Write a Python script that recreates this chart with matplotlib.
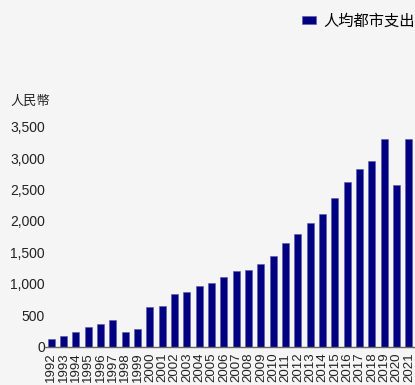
import matplotlib.pyplot as plt

plt.rcParams['font.family'] = ['Liberation Sans', 'Noto Sans CJK TC', 'DejaVu Sans']

years = [str(y) for y in range(1992, 2022)]
spending = [123, 165, 224, 304, 351, 426, 235, 283, 623, 644,
            842, 863, 958, 1006, 1102, 1203, 1214, 1310, 1443, 1641,
            1784, 1960, 2114, 2359, 2615, 2822, 2950, 3302, 2567, 3302]
yticks = [0, 500, 1000, 1500, 2000, 2500, 3000, 3500]
series_name = '人均都市支出'
y_label = '人民幣'

bg = '#f5f5f5'
fig = plt.figure(figsize=(4.15, 3.85), dpi=100, facecolor=bg)
ax = fig.add_axes([45 / 415, 38.5 / 385, 370 / 415, 219.8 / 385], facecolor=bg)

ax.bar(range(len(years)), spending, width=0.57, color='#000080',
       edgecolor='#5a5aa8', linewidth=0.4, label=series_name)

ax.set_xlim(-0.5, len(years) - 0.5)
ax.set_ylim(0, 3500)
ax.set_xticks(range(len(years)))
ax.set_xticklabels(years, rotation=90, fontsize=9.5, color='#222222')
ax.set_yticks(yticks)
ax.set_yticklabels([f'{v:,}' for v in yticks], fontsize=10, color='#222222')
ax.tick_params(axis='y', length=0, pad=0)
ax.tick_params(axis='x', length=0, pad=4.5)

for s in ['top', 'right', 'left']:
    ax.spines[s].set_visible(False)
ax.spines['bottom'].set_color('#666666')
ax.spines['bottom'].set_linewidth(1)

fig.text(10 / 415, 1 - 102 / 385, y_label, fontsize=9.5, color='#222222',
         va='center', ha='left')

fig.legend(loc='center left', bbox_to_anchor=(296 / 415, 1 - 21 / 385),
           frameon=False, fontsize=11, handlelength=0.9, handleheight=0.5,
           handletextpad=0.5, borderaxespad=0)

fig.savefig('out.png', dpi=100, facecolor=bg)
